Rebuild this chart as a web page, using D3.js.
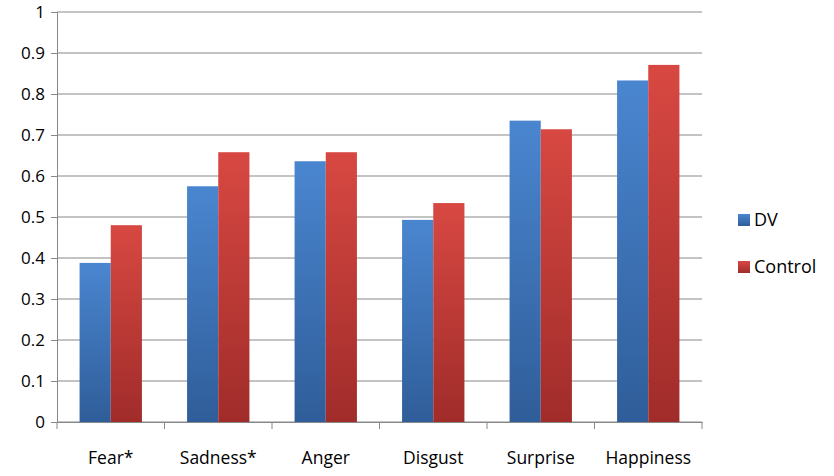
<!DOCTYPE html>
<html><head><meta charset="utf-8">
<script src="https://cdn.jsdelivr.net/npm/d3@7"></script>
<style>body{margin:0;background:#fff}text{font-family:"Open Sans","Liberation Sans",sans-serif;fill:#000}</style>
</head><body><svg id="c" width="834" height="476"></svg>
<script>
const categories=["Fear*","Sadness*","Anger","Disgust","Surprise","Happiness"];
const seriesNames=["DV","Control"];
const dv=[0.388,0.575,0.636,0.493,0.735,0.833];
const control=[0.48,0.658,0.658,0.534,0.714,0.871];
const yTicks=[0,0.1,0.2,0.3,0.4,0.5,0.6,0.7,0.8,0.9,1];
const svg=d3.select("#c");
const L=57,R=702,T=12,B=422;
const x=d3.scaleBand().domain(categories).range([L,R]).paddingInner(0.42).paddingOuter(0.21);
const xs=d3.scaleBand().domain(seriesNames).range([0,x.bandwidth()]);
const y=d3.scaleLinear().domain([0,1]).range([B,T]);
const defs=svg.append("defs");
const cols={DV:["#4a86d0","#2f5d99"],Control:["#d84842","#a02c2a"]};
seriesNames.forEach(s=>{const g=defs.append("linearGradient").attr("id","g"+s).attr("x1",0).attr("x2",0).attr("y1",0).attr("y2",1);
g.append("stop").attr("offset","0%").attr("stop-color",cols[s][0]);
g.append("stop").attr("offset","100%").attr("stop-color",cols[s][1]);});
svg.append("g").selectAll("line").data(yTicks).join("line").attr("x1",L).attr("x2",R).attr("y1",d=>y(d)).attr("y2",d=>y(d)).attr("stroke","#888").attr("stroke-width",1);
const data={DV:dv,Control:control};
seriesNames.forEach(s=>{svg.append("g").selectAll("rect").data(categories).join("rect")
.attr("x",(c)=>x(c)+xs(s)).attr("width",xs.bandwidth()).attr("y",(c,i)=>y(data[s][i])).attr("height",(c,i)=>B-y(data[s][i])).attr("fill",`url(#g${s})`);});
const ya=svg.append("g").attr("transform",`translate(${L},0)`).call(d3.axisLeft(y).tickValues(yTicks).tickFormat(d=>String(d)).tickSize(6).tickPadding(6));
ya.selectAll("text").style("font-size","17px");
const xa=svg.append("g").attr("transform",`translate(0,${B})`).call(d3.axisBottom(x).tickSize(0).tickPadding(30));
xa.selectAll("text").style("font-size","17.5px");
svg.append("g").selectAll("line").data(d3.range(categories.length+1)).join("line")
.attr("x1",i=>L+i*(R-L)/categories.length).attr("x2",i=>L+i*(R-L)/categories.length).attr("y1",B).attr("y2",B+7).attr("stroke","#888");
[ya,xa].forEach(a=>{a.selectAll("path,line").attr("stroke","#888");});
const lg=svg.append("g").selectAll("g").data(seriesNames).join("g").attr("transform",(d,i)=>`translate(738,${220+i*47})`);
lg.append("rect").attr("x",0).attr("y",-6).attr("width",12).attr("height",12).attr("fill",d=>`url(#g${d})`);
lg.append("text").attr("x",16).attr("y",6).style("font-size","18px").text(d=>d);
</script></body></html>
